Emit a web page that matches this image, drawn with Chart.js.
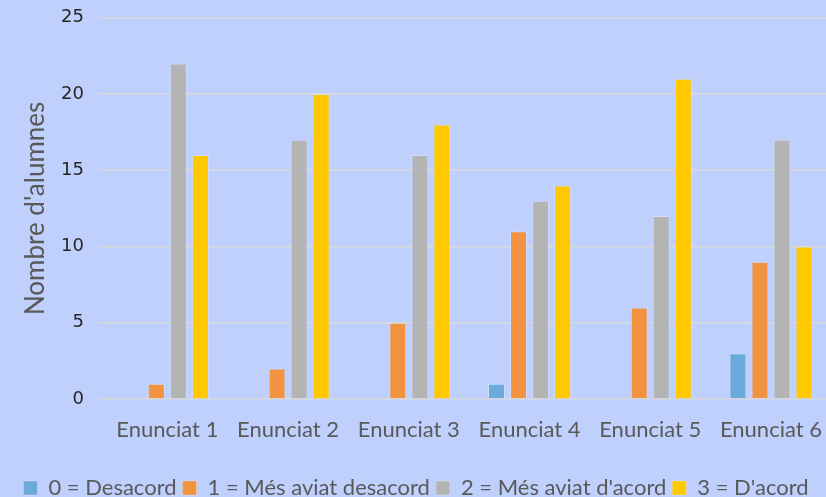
<!DOCTYPE html>
<html><head><meta charset="utf-8">
<script src="https://cdn.jsdelivr.net/npm/chart.js@4"></script>
<style>
html,body{margin:0;padding:0;background:#BFD0FD;overflow:hidden;}
#wrap{width:832px;height:517px;margin-top:-8px;}
</style></head>
<body><div id="wrap"><canvas id="c"></canvas></div>
<script>
const categories = ["Enunciat 1","Enunciat 2","Enunciat 3","Enunciat 4","Enunciat 5","Enunciat 6"];
const seriesNames = ["0 = Desacord","1 = Més aviat desacord","2 = Més aviat d'acord","3 = D'acord"];
const desacord = [0,0,0,1,0,3];
const mesAviatDesacord = [1,2,5,11,6,9];
const mesAviatAcord = [22,17,16,13,12,17];
const acord = [16,20,18,14,21,10];
const yTicks = [0,5,10,15,20,25];
const colors = ["#6AABDB","#F29342","#B4B4B4","#FFC800"];

const series = [desacord, mesAviatDesacord, mesAviatAcord, acord];
const font = "Lato, 'Open Sans', sans-serif";
new Chart(document.getElementById('c'), {
  type: 'bar',
  data: {
    labels: categories,
    datasets: series.map((d,i)=>({
      label: seriesNames[i], data: d, backgroundColor: colors[i],
      borderColor: 'rgba(255,255,255,0.25)', borderWidth: 1,
      categoryPercentage: 0.73, barPercentage: 0.77
    }))
  },
  options: {
    responsive: true, maintainAspectRatio: false, animation: false,
    layout: { padding: { left: 0, top: 0, bottom: 0, right: 0 } },
    plugins: {
      tooltip: { enabled: false },
      legend: {
        position: 'bottom',
        labels: { boxWidth: 14, boxHeight: 14, color: '#595959', padding: 6,
          font: { family: font, size: 22 } }
      }
    },
    scales: {
      x: {
        afterFit: s => { s.height = 72; },
        grid: { display: false },
        border: { display: false },
        ticks: { color: '#595959', padding: 10, font: { family: font, size: 22 } }
      },
      y: {
        min: 0, max: 25,
        afterBuildTicks: s => { s.ticks = yTicks.map(v=>({value:v})); },
        afterFit: s => { s.width = 107; },
        grid: { color: '#D9D9D9', lineWidth: 1.6 },
        border: { display: false },
        ticks: { color: '#262626', padding: 15, font: { family: "'DejaVu Sans', sans-serif", size: 18 } },
        title: { display: true, text: "Nombre d'alumnes", color: '#595959',
          padding: { top: 20, bottom: 0 }, font: { family: font, size: 26 } }
      }
    }
  }
});
</script></body></html>
